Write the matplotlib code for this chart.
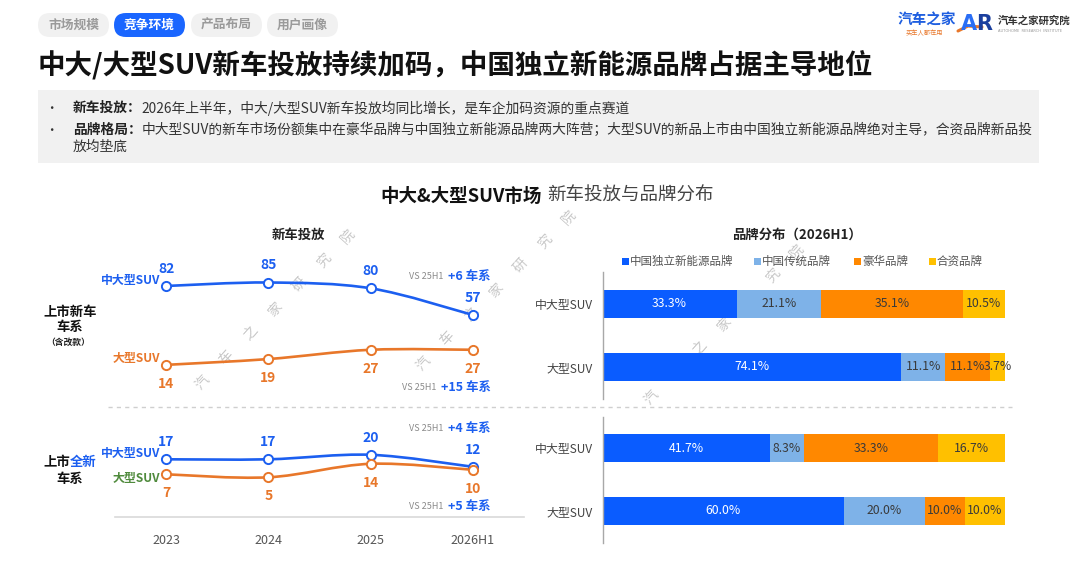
import matplotlib
matplotlib.use('Agg')
import matplotlib.pyplot as plt
from matplotlib.patches import FancyBboxPatch, Rectangle, PathPatch
from matplotlib.path import Path
import numpy as np

plt.rcParams['font.family'] = ['Noto Sans CJK SC', 'DejaVu Sans']

# ---------------- data ----------------
years = ['2023', '2024', '2025', '2026H1']
new_mid_large = [82, 85, 80, 57]        # 上市新车车系 中大型SUV
new_large = [14, 19, 27, 27]            # 上市新车车系 大型SUV
allnew_mid_large = [17, 17, 20, 12]     # 上市全新车系 中大型SUV
allnew_large = [7, 5, 14, 10]           # 上市全新车系 大型SUV
delta_new = ['+6 车系', '+15 车系']
delta_allnew = ['+4 车系', '+5 车系']
series_names = ['中大型SUV', '大型SUV']
bar_categories = ['中大型SUV', '大型SUV']
brands = ['中国独立新能源品牌', '中国传统品牌', '豪华品牌', '合资品牌']
share_new_mid_large = [33.3, 21.1, 35.1, 10.5]
share_new_large = [74.1, 11.1, 11.1, 3.7]
share_allnew_mid_large = [41.7, 8.3, 33.3, 16.7]
share_allnew_large = [60.0, 20.0, 10.0, 10.0]
tabs = ['市场规模', '竞争环境', '产品布局', '用户画像']

# ---------------- style ----------------
W, H = 1080, 569
BLUE = '#1c5ff0'
ORANGE = '#e8772a'
GREEN = '#4f8a3c'
BAR_COLORS = ['#0a5cff', '#7eb2e8', '#ff8800', '#ffc000']
BAR_TEXT = ['white', '#3a3a3a', '#3a3a3a', '#3a3a3a']

fig = plt.figure(figsize=(W / 100, H / 100), dpi=100, facecolor='white')
bg = fig.add_axes([0, 0, 1, 1])
bg.set_xlim(0, W)
bg.set_ylim(H, 0)
bg.axis('off')
R = fig.canvas.get_renderer()


def px_axes(x0, y0, x1, y1):
    return fig.add_axes([x0 / W, 1 - y1 / H, (x1 - x0) / W, (y1 - y0) / H])


def right_of(t):
    return t.get_window_extent(renderer=R).x1


def left_of(t):
    return t.get_window_extent(renderer=R).x0


# ---------------- header ----------------
tab_x = [38, 114, 191, 267]
for i, (name, x0) in enumerate(zip(tabs, tab_x)):
    active = (i == 1)
    bg.add_patch(FancyBboxPatch((x0, 13), 71, 24,
                                boxstyle='round,pad=0,rounding_size=12',
                                fc='#1a66ff' if active else '#f1f1f1', ec='none'))
    bg.text(x0 + 35.5, 25, name, ha='center', va='center', fontsize=9.2,
            fontweight='bold', color='white' if active else '#9a9a9a')

# logos
bg.text(898, 20, '汽车之家', ha='left', va='center', fontsize=10.5,
        fontweight='bold', color='#1f5fe0')
bg.text(906, 33, '买车人都在用', ha='left', va='center', fontsize=4.5,
        color=ORANGE, style='italic')
bg.text(961, 24, 'A', ha='left', va='center', fontsize=15, fontweight='bold',
        color='#2a6ef5', family='DejaVu Sans')
bg.text(976, 24, 'R', ha='left', va='center', fontsize=15, fontweight='bold',
        color='#1b3f9e', family='DejaVu Sans')
bg.plot([958, 968, 982], [31, 26, 27], color=ORANGE, lw=2.2, solid_capstyle='round')
bg.text(998, 21, '汽车之家研究院', ha='left', va='center', fontsize=7.5,
        fontweight='bold', color='#333333')
bg.text(998, 31, 'AUTOHOME  RESEARCH  INSTITUTE', ha='left', va='center',
        fontsize=2.6, color='#999999', family='DejaVu Sans')

# title
bg.text(38, 65, '中大/大型SUV新车投放持续加码，中国独立新能源品牌占据主导地位',
        ha='left', va='center', fontsize=19.8, fontweight='bold', color='#111111')

# summary box
bg.add_patch(Rectangle((38, 90), 1001, 73, fc='#f1f1f1', ec='none'))
bullets = [
    ('新车投放：', ['2026年上半年，中大/大型SUV新车投放均同比增长，是车企加码资源的重点赛道']),
    ('品牌格局：', ['中大型SUV的新车市场份额集中在豪华品牌与中国独立新能源品牌两大阵营；大型SUV的新品上市由中国独立新能源品牌绝对主导，合资品牌新品投',
               '放均垫底']),
]
yy = [108, 130]
for (head, lines), y in zip(bullets, yy):
    bg.text(51, y, '•', ha='center', va='center', fontsize=9, color='#333333')
    t = bg.text(73, y, head, ha='left', va='center', fontsize=9.9,
                fontweight='bold', color='#222222')
    x1 = right_of(t)
    bg.text(x1, y, lines[0], ha='left', va='center', fontsize=9.9, color='#333333')
    for k, ln in enumerate(lines[1:]):
        bg.text(73, y + 17 * (k + 1), ln, ha='left', va='center', fontsize=9.9,
                color='#333333')

# chart title
t = bg.text(380, 196, '中大&大型SUV市场', ha='left', va='center', fontsize=13.3,
            fontweight='bold', color='#111111')
bg.text(right_of(t) + 6, 196, '新车投放与品牌分布', ha='left', va='center',
        fontsize=13.3, color='#444444')
bg.text(298, 235, '新车投放', ha='center', va='center', fontsize=9.6,
        fontweight='bold', color='#222222')
bg.text(797, 235, '品牌分布（2026H1）', ha='center', va='center', fontsize=9.6,
        fontweight='bold', color='#222222')

# watermark
wm = '汽车之家研究院'
for (sx, sy) in [(202, 382), (423, 363), (651, 397)]:
    for k, ch in enumerate(wm):
        bg.text(sx + 24.3 * k, sy - 24.3 * k, ch, ha='center', va='center',
                fontsize=10, color='#c8c8c8', rotation=48, zorder=0.5)

# separator
bg.plot([108, 1012], [407, 407], color='#cfcfcf', lw=1, ls=(0, (3, 3)))

# row labels
bg.text(70, 312, '上市新车', ha='center', va='center', fontsize=9.6,
        fontweight='bold', color='#111111')
bg.text(70, 327, '车系', ha='center', va='center', fontsize=9.6,
        fontweight='bold', color='#111111')
bg.text(68, 342, '（含改款）', ha='center', va='center', fontsize=6.3,
        fontweight='bold', color='#222222')
bg.text(70, 462, '上市', ha='right', va='center', fontsize=9.6,
        fontweight='bold', color='#111111')
bg.text(70, 462, '全新', ha='left', va='center', fontsize=9.6,
        fontweight='bold', color=BLUE)
bg.text(70, 479, '车系', ha='center', va='center', fontsize=9.6,
        fontweight='bold', color='#111111')


# ---------------- line charts ----------------
def smooth_line(ax, ys, color):
    xs = np.arange(len(ys), dtype=float)
    pts = np.column_stack([xs, np.asarray(ys, dtype=float)])
    n = len(pts)
    verts = [pts[0]]
    codes = [Path.MOVETO]
    for i in range(n - 1):
        p0 = pts[max(i - 1, 0)]
        p1 = pts[i]
        p2 = pts[i + 1]
        p3 = pts[min(i + 2, n - 1)]
        c1 = p1 + (p2 - p0) / 6.0
        c2 = p2 - (p3 - p1) / 6.0
        verts += [c1, c2, p2]
        codes += [Path.CURVE4] * 3
    ax.add_patch(PathPatch(Path(verts, codes), fill=False, edgecolor=color,
                           lw=1.9, capstyle='round', zorder=2))
    ax.plot(xs, ys, 'o', ms=6.6, mfc='white', mec=color, mew=1.4, zorder=3)


def value_labels(ax, ys, color, dy):
    for i, v in enumerate(ys):
        ax.annotate(str(v), (i, v), xytext=(0, dy), textcoords='offset points',
                    ha='center', va='center', fontsize=10, fontweight='bold',
                    color=color, zorder=4)


def series_label(ax, ys, name, color, dy):
    ax.annotate(name, (0, ys[0]), xytext=(-4.5, dy), textcoords='offset points',
                ha='right', va='center', fontsize=8.6, fontweight='bold',
                color=color, annotation_clip=False)


ax1 = px_axes(115, 253.5, 524, 381.1)
ax1.set_xlim(-0.5, 3.5)
ax1.set_ylim(0, 110)
ax1.axis('off')
smooth_line(ax1, new_mid_large, BLUE)
smooth_line(ax1, new_large, ORANGE)
value_labels(ax1, new_mid_large, BLUE, 12.3)
value_labels(ax1, new_large, ORANGE, -13.7)
series_label(ax1, new_mid_large, series_names[0], BLUE, 3.6)
series_label(ax1, new_large, series_names[1], ORANGE, 4.3)

ax2 = px_axes(115, 424.8, 524, 517)
ax2.set_xlim(-0.5, 3.5)
ax2.set_ylim(-21.47, 40)
for s in ['top', 'left', 'right']:
    ax2.spines[s].set_visible(False)
ax2.spines['bottom'].set_color('#d9d9d9')
ax2.spines['bottom'].set_linewidth(1.2)
ax2.set_yticks([])
ax2.set_xticks(range(len(years)))
ax2.set_xticklabels(years, fontsize=9, color='#555555')
ax2.tick_params(axis='x', length=0, pad=12)
ax2.set_facecolor('none')
smooth_line(ax2, allnew_mid_large, BLUE)
smooth_line(ax2, allnew_large, ORANGE)
value_labels(ax2, allnew_mid_large, BLUE, 12.3)
value_labels(ax2, allnew_large, ORANGE, -13.7)
series_label(ax2, allnew_mid_large, series_names[0], BLUE, 4.3)
series_label(ax2, allnew_large, series_names[1], GREEN, -2.9)

# VS 25H1 notes
for txt, y in zip(delta_new + delta_allnew, [276, 387, 428, 506]):
    t = bg.text(491, y, txt, ha='right', va='center', fontsize=9,
                fontweight='bold', color=BLUE)
    bg.text(left_of(t) - 5, y, 'VS 25H1', ha='right', va='center',
            fontsize=6.5, color='#8a8a8a')


# ---------------- bar charts ----------------
def bar_panel(y0, y1, rows):
    ax = px_axes(602.5, y0, 1005, y1)
    ax.set_xlim(0, 100)
    ax.set_ylim(1.5, -0.5)
    for s in ['top', 'right', 'bottom']:
        ax.spines[s].set_visible(False)
    ax.spines['left'].set_color('#a8a8a8')
    ax.spines['left'].set_linewidth(1)
    ax.set_xticks([])
    ax.set_yticks(range(len(bar_categories)))
    ax.set_yticklabels(bar_categories, fontsize=8.6, color='#444444')
    ax.tick_params(axis='y', length=0, pad=7)
    ax.set_facecolor('none')
    for r, vals in enumerate(rows):
        left = 0.0
        for j, v in enumerate(vals):
            ax.barh(r, v, left=left, height=0.444, color=BAR_COLORS[j],
                    edgecolor='none')
            ax.text(left + v / 2, r, f'{v:.1f}%', ha='center', va='center',
                    fontsize=8.8, color=BAR_TEXT[j])
            left += v
    return ax


bar_panel(272.5, 398.5, [share_new_mid_large, share_new_large])
bar_panel(416.5, 542.5, [share_allnew_mid_large, share_allnew_large])

# legend
leg_x = [625, 757, 857, 932]
for name, c, x in zip(brands, BAR_COLORS, leg_x):
    bg.add_patch(Rectangle((x - 3.5, 257.5), 7, 7, fc=c, ec='none'))
    bg.text(x + 5, 261, name, ha='left', va='center', fontsize=8.3,
            color='#555555')

fig.savefig('out.png', dpi=100, facecolor='white')
